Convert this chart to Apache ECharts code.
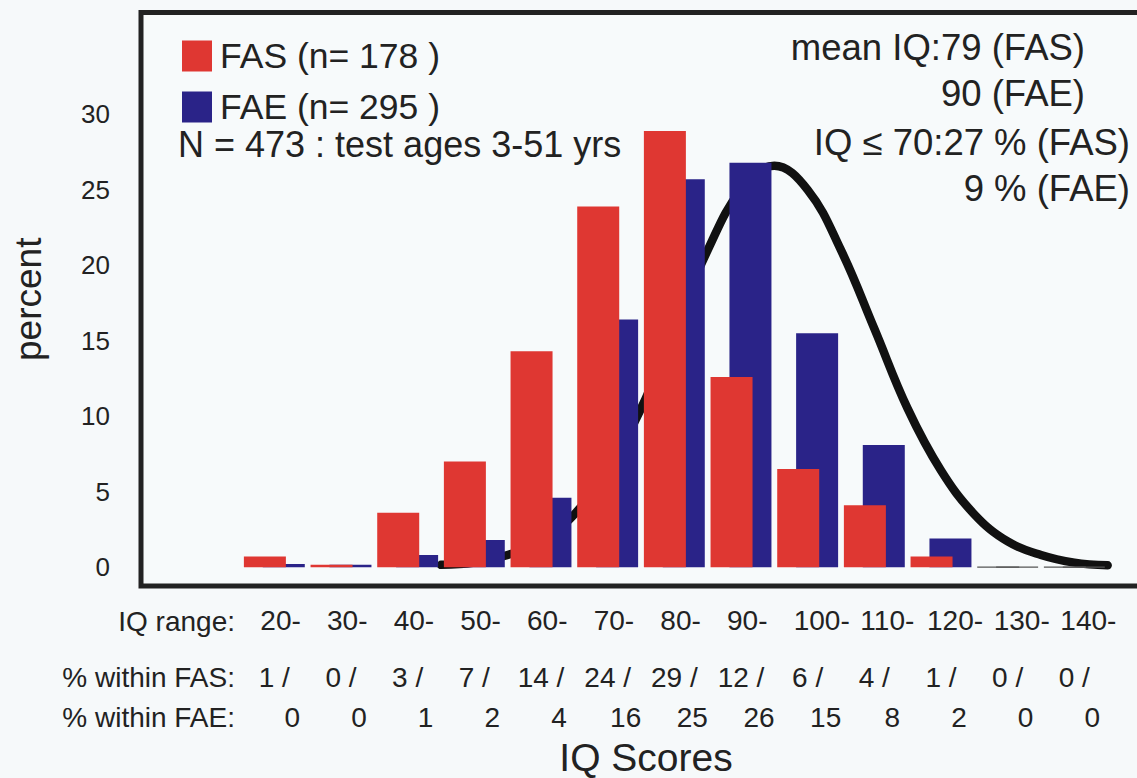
<!DOCTYPE html>
<html>
<head>
<meta charset="utf-8">
<script src="https://cdn.jsdelivr.net/npm/echarts@6/dist/echarts.min.js"></script>
<style>
html,body{margin:0;padding:0;background:#F6F9FA;}
#chart{width:1137px;height:778px;}
</style>
</head>
<body>
<div id="chart"></div>
<script>
// ---- data ----
const binStart = [20, 30, 40, 50, 60, 70, 80, 90, 100, 110, 120, 130, 140];
const rangeLabels = ['20-', '30-', '40-', '50-', '60-', '70-', '80-', '90-', '100-', '110-', '120-', '130-', '140-'];
const fasBar = [0.7, 0.15, 3.6, 7.0, 14.3, 23.9, 28.9, 12.6, 6.5, 4.1, 0.7, 0, 0];
const faeBar = [0.2, 0.15, 0.8, 1.8, 4.6, 16.4, 25.7, 26.8, 15.5, 8.1, 1.9, 0, 0];
const fasPctLabels = [1, 0, 3, 7, 14, 24, 29, 12, 6, 4, 1, 0, 0];
const faePctLabels = [0, 0, 1, 2, 4, 16, 25, 26, 15, 8, 2, 0, 0];
const curveIQ = [50, 55, 60, 65, 70, 75, 80, 85, 90, 95, 100, 105, 110, 115, 120, 125, 130, 135, 140, 145, 150];
const curvePct = [0.15, 0.3, 0.8, 1.7, 3.5, 6.4, 10.5, 15.8, 21.0, 25.0, 26.6, 25.0, 21.0, 15.8, 10.5, 6.4, 3.5, 1.7, 0.8, 0.3, 0.12];
const yTickLabels = [0, 5, 10, 15, 20, 25, 30];
const fasName = 'FAS (n= 178 )';
const faeName = 'FAE (n= 295 )';

const RED = '#DF3732';
const BLUE = '#2A2388';
const INK = '#222222';
const FONT = '"Liberation Sans", Arial, Helvetica, sans-serif';

const mid = binStart.map(s => s + 5);
function idxOf(v) {
  const i = Math.round((v - 25) / 10);
  if (Math.abs(v - (25 + 10 * i)) < 1e-6 && i >= 0 && i < binStart.length) return i;
  return -1;
}
function barData(vals) {
  return vals.map((v, i) => v === 0
    ? { value: [mid[i], v], itemStyle: { borderColor: '#555', borderWidth: 1.2 } }
    : { value: [mid[i], v] });
}
function xAxisCfg(offset, fmt, pad, rich) {
  return {
    type: 'value', gridIndex: 0, position: 'bottom', offset: offset,
    min: 5, max: 155, interval: 5,
    axisLine: { show: false }, axisTick: { show: false }, splitLine: { show: false },
    axisLabel: {
      margin: 20, fontSize: 28, color: INK, fontFamily: FONT, padding: pad, rich: rich,
      formatter: function (v) { const i = idxOf(v); return i < 0 ? '' : fmt(i); }
    }
  };
}
function txt(x, y, text, size, align) {
  return {
    type: 'text', x: x, y: y, z: 10,
    style: {
      text: text, fill: INK, font: size + 'px ' + FONT, fontSize: size, fontFamily: FONT,
      lineHeight: Math.round(size), 
      align: align, textAlign: align, verticalAlign: 'middle', textVerticalAlign: 'middle'
    }
  };
}

const chart = echarts.init(document.getElementById('chart'), null, { renderer: 'svg' });
chart.setOption({
  backgroundColor: '#F6F9FA',
  animation: false,
  textStyle: { fontFamily: FONT },
  grid: {
    left: 141, top: 12.5, width: 1000, height: 573.5,
    containLabel: false, outerBoundsMode: 'none',
    show: true, borderColor: INK, borderWidth: 5, backgroundColor: '#F7FAFB'
  },
  legend: {
    orient: 'vertical', left: 177, top: 33, itemWidth: 30, itemHeight: 31, itemGap: 15,
    icon: 'rect', selectedMode: false, data: [fasName, faeName],
    textStyle: { fontSize: 35.5, lineHeight: 31, color: INK, fontFamily: FONT, padding: [0, 0, 0, 3] }
  },
  xAxis: [
    xAxisCfg(0, i => '{r|' + rangeLabels[i] + '}', [0, 0, 0, 0],
      { r: { width: 28, align: 'left', fontSize: 28, color: INK, fontFamily: FONT } }),
    xAxisCfg(57, i => fasPctLabels[i] + ' /', [0, 0, 0, 0]),
    xAxisCfg(97, i => String(faePctLabels[i]), [0, 0, 0, 36])
  ],
  yAxis: {
    type: 'value', min: -1.25, max: 36.75, interval: 1.25,
    name: 'percent', nameLocation: 'middle', nameRotate: 90, nameGap: 94,
    nameTextStyle: { fontSize: 37, color: INK, fontFamily: FONT },
    axisLine: { show: false }, axisTick: { show: false }, splitLine: { show: false },
    axisLabel: {
      margin: 31, fontSize: 26, color: INK, fontFamily: FONT,
      formatter: function (v) {
        const hit = yTickLabels.find(t => Math.abs(t - v) < 1e-6);
        return hit === undefined ? '' : String(hit);
      }
    }
  },
  series: [
    {
      name: 'normal', type: 'line', xAxisIndex: 0, z: 1,
      data: curveIQ.map((x, i) => [x, curvePct[i]]),
      smooth: 0.4, symbol: 'none', silent: true,
      lineStyle: { color: '#111', width: 8.5, cap: 'round', join: 'round' }
    },
    {
      name: fasName, type: 'bar', xAxisIndex: 0, z: 3,
      barWidth: 42, barGap: '-55%',
      itemStyle: { color: RED },
      data: barData(fasBar)
    },
    {
      name: faeName, type: 'bar', xAxisIndex: 0, z: 2,
      barWidth: 42, barGap: '-55%',
      itemStyle: { color: BLUE },
      data: barData(faeBar)
    }
  ],
  graphic: [
    txt(178, 144, 'N = 473 : test ages 3-51 yrs', 36, 'left'),
    txt(1085, 47, 'mean IQ:79 (FAS)', 36.5, 'right'),
    txt(1085, 93, '90 (FAE)', 36.5, 'right'),
    txt(1130, 142, 'IQ ≤ 70:27 % (FAS)', 36.5, 'right'),
    txt(1130, 188, '9 % (FAE)', 36.5, 'right'),
    txt(235, 621, 'IQ range:', 28, 'right'),
    txt(235, 677, '% within FAS:', 28, 'right'),
    txt(235, 717, '% within FAE:', 28, 'right'),
    txt(646, 757, 'IQ Scores', 39, 'center')
  ]
});
</script>
</body>
</html>
